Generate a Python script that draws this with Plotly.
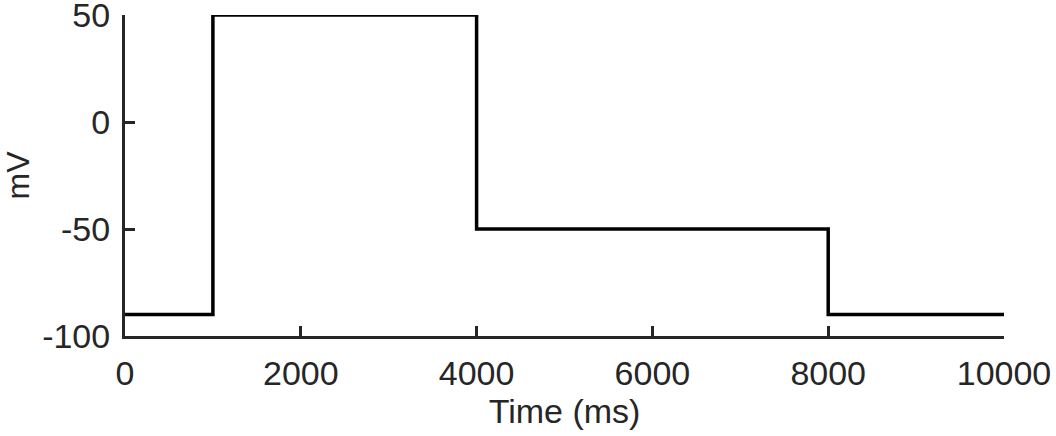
import plotly.graph_objects as go

time_ms = [0, 1000, 1000, 4000, 4000, 8000, 8000, 10000]
voltage_mv = [-90, -90, 50, 50, -50, -50, -90, -90]

x_ticks = [0, 2000, 4000, 6000, 8000, 10000]
x_labels = ["0", "2000", "4000", "6000", "8000", "10000"]
y_ticks = [-100, -50, 0, 50]
y_labels = ["-100", "-50", "0", "50"]

FONT = "Liberation Sans, Arial, Helvetica, sans-serif"
AX = "#262626"

fig = go.Figure()
fig.add_trace(go.Scatter(x=time_ms, y=voltage_mv, mode="lines",
                         line=dict(color="black", width=3.5),
                         cliponaxis=False, showlegend=False, hoverinfo="skip"))

fig.update_layout(
    width=1056, height=436,
    margin=dict(l=125, r=52, t=15, b=100),
    paper_bgcolor="white", plot_bgcolor="white",
    font=dict(family=FONT, size=34, color=AX),
)
fig.update_xaxes(range=[0, 10000], tickvals=x_ticks, ticktext=x_labels, ticks="inside", ticklen=10,
                 tickwidth=3, tickcolor=AX, showline=True, linecolor=AX, linewidth=3,
                 showgrid=False, zeroline=False, automargin=False,
                 tickfont=dict(size=34), ticklabeloverflow="allow",
                 title=dict(text="Time (ms)", standoff=5, font=dict(size=34)),
                 ticklabelstandoff=5)
fig.update_yaxes(range=[-100, 50], tickvals=y_ticks, ticktext=y_labels, ticks="inside", ticklen=10,
                 tickwidth=3, tickcolor=AX, showline=True, linecolor=AX, linewidth=3,
                 showgrid=False, zeroline=False, automargin=False,
                 tickfont=dict(size=34), ticklabeloverflow="allow",
                 title=dict(text="mV", standoff=6, font=dict(size=32)),
                 ticklabelstandoff=5)

fig.write_html("out.html", config={"displayModeBar": False, "staticPlot": True},
               post_script="document.body.style.margin='0';document.body.style.overflow='hidden';")
